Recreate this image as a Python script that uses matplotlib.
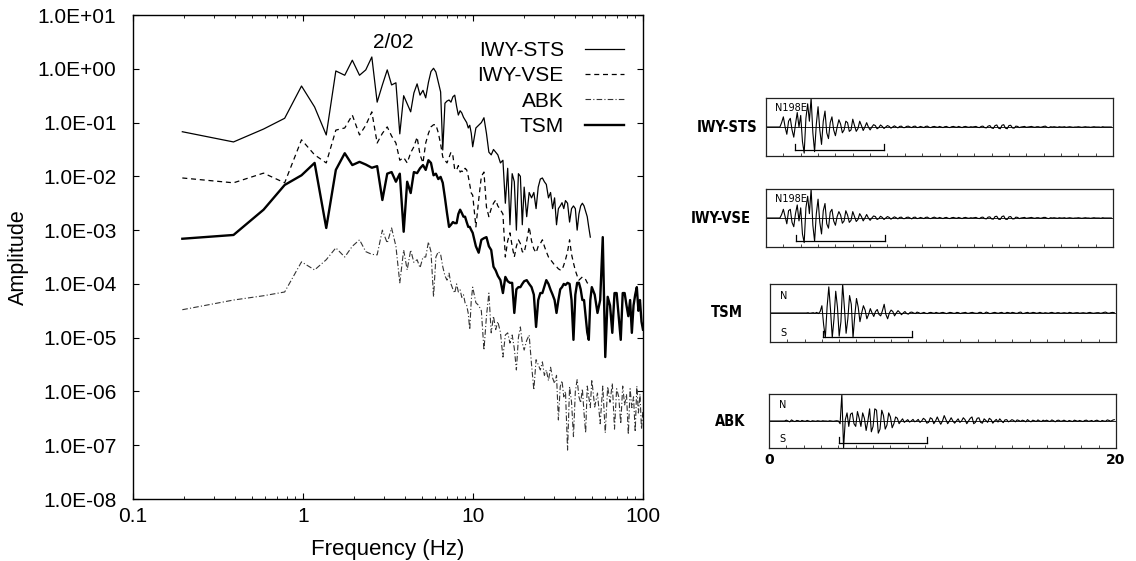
import matplotlib
matplotlib.use('Agg')
import matplotlib.pyplot as plt
import matplotlib.ticker as mticker
import numpy as np

plt.rcParams['font.family'] = ['Liberation Sans', 'DejaVu Sans']

# ---- spectra (frequency in Hz, amplitude as log10) ----
freq = [0.195, 0.39, 0.586, 0.78, 0.98, 1.17, 1.37, 1.56, 1.76, 1.95,
        2.15, 2.34, 2.54, 2.73, 2.93, 3.13, 3.32, 3.52, 3.71, 3.91,
        4.10, 4.30, 4.49, 4.69, 4.88, 5.08, 5.27, 5.47, 5.66, 5.86,
        6.05, 6.25, 6.45, 6.64, 6.84, 7.03, 7.23, 7.42, 7.62, 7.81,
        8.01, 8.20, 8.40, 8.59, 8.79, 8.98, 9.18, 9.38, 9.57, 9.77,
        9.96, 10.4, 10.8, 11.2, 11.6, 12.0, 12.4, 12.8, 13.2, 13.6,
        14.0, 14.5, 15.0, 15.5, 16.0, 16.5, 17.0, 17.5, 18.0, 18.5,
        19.0, 19.5, 20.0, 20.7, 21.4, 22.1, 22.8, 23.5, 24.2, 24.9,
        25.6, 26.3, 27.0, 27.8, 28.6, 29.4, 30.2, 31.0, 31.8, 32.6,
        33.4, 34.2, 35.0, 36, 37, 38, 39, 40, 41, 42,
        43, 44, 45, 46, 47, 48, 49, 50, 52, 54,
        56, 58, 60, 62, 64, 66, 68, 70, 72, 74,
        76, 78, 80, 82, 84, 86, 88, 90, 92, 94,
        96, 98, 100]

nan = np.nan

sts_log = [-1.17, -1.36, -1.12, -0.92, -0.32, -0.71, -1.23, -0.04, -0.12, 0.16,
           -0.12, -0.02, 0.22, -0.62, -0.30, -0.02, -0.30, -0.26, -1.21, -0.50,
           -0.65, -0.80, -0.45, -0.28, -0.49, -0.40, -0.54, -0.25, -0.05, 0.01,
           -0.06, -0.25, -0.43, -1.51, -0.64, -0.60, -0.58, -0.62, -0.52, -0.49,
           -0.70, -0.86, -0.78, -0.82, -0.90, -0.95, -1.00, -1.10, -1.05, -1.20,
           -1.45, -1.10, -1.05, -1.00, -0.91, -1.20, -1.55, -1.60, -1.50, -1.55,
           -1.60, -1.75, -1.70, -2.50, -1.85, -2.90, -1.95, -2.10, -3.00, -1.95,
           -2.00, -2.90, -2.20, -2.75, -2.30, -2.40, -2.30, -2.60, -2.20, -2.05,
           -2.03, -2.10, -2.15, -2.40, -2.30, -2.60, -2.40, -2.90, -2.60, -2.55,
           -2.49, -2.60, -2.45, -2.50, -2.85, -2.60, -2.55, -2.60, -3.00, -2.70,
           -2.55, -2.50, -2.55, -2.65, -2.75, -2.95, -3.13, nan, nan, nan,
           nan, nan, nan, nan, nan, nan, nan, nan, nan, nan,
           nan, nan, nan, nan, nan, nan, nan, nan, nan, nan,
           nan, nan, nan]

vse_log = [-2.03, -2.12, -1.94, -2.12, -1.32, -1.60, -1.75, -1.14, -1.10, -0.86,
           -1.23, -1.05, -0.80, -1.38, -1.20, -1.08, -1.25, -1.38, -1.70, -1.65,
           -1.75, -1.56, -1.45, -1.27, -1.60, -1.75, -1.38, -1.20, -1.08, -1.04,
           -1.04, -1.19, -1.40, -1.64, -1.70, -1.75, -1.65, -1.55, -1.62, -1.88,
           -1.88, -1.80, -1.92, -1.90, -1.92, -1.85, -1.88, -2.00, -2.15, -2.31,
           -2.35, -2.94, -2.44, -2.00, -1.92, -2.57, -2.75, -2.60, -2.50, -2.44,
           -2.55, -2.62, -2.70, -3.50, -3.20, -3.05, -3.30, -3.50, -3.30, -3.18,
           -3.25, -3.40, -3.42, -3.20, -2.94, -3.20, -3.35, -3.42, -3.30, -3.25,
           -3.18, -3.30, -3.40, -3.50, -3.55, -3.60, -3.65, -3.68, -3.72, -3.74,
           -3.74, -3.65, -3.55, -3.40, -3.18, -3.45, -3.61, -3.75, -3.85, -3.93,
           -3.90, -3.87, -3.90, -3.92, -3.98, -4.00, nan, nan, nan, nan,
           nan, nan, nan, nan, nan, nan, nan, nan, nan, nan,
           nan, nan, nan, nan, nan, nan, nan, nan, nan, nan,
           nan, nan, nan]

abk_log = [-4.48, -4.30, -4.22, -4.15, -3.59, -3.74, -3.55, -3.33, -3.50, -3.30,
           -3.18, -3.40, -3.45, -3.46, -3.00, -3.24, -2.96, -3.30, -3.98, -3.37,
           -3.74, -3.37, -3.60, -3.55, -3.70, -3.50, -3.50, -3.22, -3.40, -4.24,
           -3.50, -3.40, -3.45, -3.68, -3.85, -3.93, -3.80, -4.00, -4.10, -4.17,
           -4.00, -4.15, -4.11, -4.25, -4.20, -4.35, -4.40, -4.55, -4.85, -4.30,
           -4.06, -4.35, -4.40, -4.50, -5.23, -4.60, -4.17, -4.91, -4.60, -4.85,
           -4.70, -4.90, -5.36, -4.95, -4.91, -5.10, -4.95, -5.20, -5.60, -5.00,
           -4.80, -5.10, -5.23, -5.05, -4.95, -5.50, -5.97, -5.41, -5.50, -5.60,
           -5.45, -5.70, -5.60, -5.80, -5.55, -5.75, -5.85, -5.70, -6.53, -5.91,
           -5.80, -6.10, -6.00, -7.09, -5.91, -6.20, -6.84, -6.00, -5.78, -6.10,
           -6.21, -5.95, -6.40, -6.77, -5.90, -6.10, -6.30, -5.78, -6.29, -6.03,
           -6.60, -5.90, -6.77, -5.91, -6.20, -5.85, -6.70, -5.95, -6.10, -6.60,
           -5.90, -6.25, -6.05, -6.80, -5.95, -6.30, -6.10, -6.75, -5.90, -6.40,
           -6.05, -6.70, -6.34]

tsm_log = [-3.16, -3.09, -2.62, -2.16, -1.98, -1.75, -2.96, -1.88, -1.57, -1.79,
           -1.73, -1.78, -1.84, -1.81, -2.44, -1.95, -1.92, -2.10, -1.95, -3.03,
           -2.10, -2.31, -1.92, -1.94, -1.85, -1.79, -1.88, -1.70, -1.75, -1.98,
           -1.95, -2.05, -2.01, -2.12, -2.40, -2.68, -2.94, -2.90, -2.85, -2.87,
           -2.87, -2.70, -2.62, -2.68, -2.75, -2.75, -2.85, -2.94, -2.94, -3.00,
           -3.05, -3.30, -3.42, -3.18, -3.15, -3.13, -3.30, -3.37, -3.68, -3.75,
           -3.85, -3.93, -4.17, -3.87, -3.95, -3.98, -3.98, -4.54, -4.10, -4.06,
           -4.06, -4.00, -3.95, -3.93, -4.00, -4.06, -4.20, -4.80, -4.30, -4.17,
           -4.17, -4.05, -3.93, -4.00, -4.11, -4.20, -4.30, -4.54, -4.30, -4.10,
           -4.06, -4.00, -4.02, -3.98, -4.00, -4.30, -5.04, -4.20, -3.98, -3.98,
           -4.10, -4.30, -4.30, -4.60, -4.90, -5.04, -4.30, -4.06, -4.20, -4.54,
           -4.30, -3.13, -5.36, -4.24, -4.40, -4.91, -4.17, -4.17, -4.60, -5.04,
           -4.17, -4.17, -4.40, -4.60, -4.30, -4.91, -4.40, -4.20, -4.06, -4.50,
           -4.30, -4.70, -4.85]

y_ticks = [1e-8, 1e-7, 1e-6, 1e-5, 1e-4, 1e-3, 1e-2, 1e-1, 1e0, 1e1]
x_ticks = [0.1, 1, 10, 100]

# ---- waveforms (normalised, one sample every 0.1 s, 0 - 20 s) ----
dt = 0.1
wave_sts = [0, 0, 0, 0, 0, 0, 0, 0, 0, 0.15, 0.35, 0.0, -0.25, 0.2, 0.3, -0.1, -0.35, 0.1, 0.5, 0.0,
            0.4, -0.5, -0.9, 0.3, 0.8, 0.2, 1.0, -0.2, -0.85, 0.1, 0.7, -0.1, -0.6, 0.2, 0.55, -0.2, -0.4, 0.15, 0.35, -0.1,
            -0.3, 0.0, 0.25, 0.1, -0.2, -0.1, 0.2, 0.15, -0.15, -0.1, 0.27, 0.05, -0.15, -0.05, 0.2, 0.05, -0.12, 0.0, 0.15, 0.0,
            -0.1, 0.0, 0.08, 0.05, -0.06, -0.02, 0.07, 0.02, -0.05, 0.0, 0.05, 0.02, -0.04, 0.0, 0.04, 0.0, -0.03, 0.02, 0.03, -0.02,
            -0.02, 0.02, 0.03, 0.0, -0.02, 0.02, 0.03, -0.02, -0.01, 0.02, 0.0, -0.02, 0.02, 0.03, -0.01, -0.02, 0.01, 0.02, 0.0, -0.01,
            0.02, 0.0, -0.02, 0.01, 0.02, -0.01, -0.02, 0.01, 0.02, 0.0, -0.01, 0.02, 0.0, -0.02, 0.01, 0.02, 0.0, -0.01, 0.01, 0.0,
            0.01, 0.02, -0.01, -0.02, 0.02, 0.03, -0.02, -0.03, 0.03, 0.05, -0.03, -0.05, 0.05, 0.07, -0.04, -0.06, 0.06, 0.08, -0.04, -0.06,
            0.05, 0.06, -0.03, -0.04, 0.03, 0.02, -0.02, 0.0, 0.01, 0.02, -0.01, 0.0, 0.01, 0.02, 0.0, -0.01, 0.01, 0.01, -0.01, 0.0,
            0.02, 0.03, -0.01, -0.02, 0.01, 0.0, 0.01, 0.0, -0.01, 0.01, 0.0, 0.0, 0.01, -0.01, 0.0, 0.01, 0.0, -0.01, 0.0, 0.0,
            0.01, 0.0, -0.01, 0.0, 0.01, 0.0, 0.0, -0.01, 0.0, 0.01, 0.0, 0.0, 0.0, -0.01, 0.01, 0.0, 0.0, 0.0, 0.0, 0.0]

wave_vse = [0, 0, 0, 0, 0, 0, 0, 0, 0, 0.12, 0.3, 0.05, -0.2, 0.25, 0.3, -0.15, -0.3, 0.15, 0.45, -0.1,
            0.35, -0.55, -0.85, 0.35, 0.75, 0.15, 1.0, -0.25, -0.8, 0.15, 0.65, -0.15, -0.55, 0.25, 0.5, -0.2, -0.35, 0.2, 0.3, -0.1,
            -0.25, 0.05, 0.22, 0.1, -0.18, -0.1, 0.25, 0.1, -0.15, -0.08, 0.22, 0.05, -0.12, -0.05, 0.15, 0.05, -0.1, 0.0, 0.12, 0.0,
            -0.08, 0.0, 0.07, 0.05, -0.05, -0.02, 0.06, 0.02, -0.05, 0.0, 0.05, 0.02, -0.04, 0.0, 0.04, 0.01, -0.03, 0.02, 0.03, -0.02,
            -0.02, 0.02, 0.03, 0.0, -0.03, 0.02, 0.03, -0.02, -0.01, 0.02, 0.0, -0.02, 0.02, 0.03, -0.01, -0.02, 0.01, 0.03, 0.0, -0.01,
            0.02, 0.0, -0.02, 0.01, 0.02, -0.01, -0.02, 0.01, 0.02, 0.0, -0.01, 0.02, 0.0, -0.02, 0.01, 0.02, 0.0, -0.01, 0.01, 0.0,
            0.01, 0.02, -0.01, -0.02, 0.02, 0.03, -0.02, -0.03, 0.03, 0.04, -0.03, -0.04, 0.05, 0.06, -0.04, -0.05, 0.05, 0.07, -0.04, -0.05,
            0.04, 0.05, -0.03, -0.03, 0.03, 0.02, -0.02, 0.0, 0.01, 0.02, -0.01, 0.0, 0.01, 0.02, 0.0, -0.01, 0.01, 0.01, -0.01, 0.0,
            0.02, 0.02, -0.01, -0.02, 0.01, 0.0, 0.01, 0.0, -0.01, 0.01, 0.0, 0.0, 0.01, -0.01, 0.0, 0.01, 0.0, -0.01, 0.0, 0.0,
            0.01, 0.0, -0.01, 0.0, 0.01, 0.0, 0.0, -0.01, 0.0, 0.01, 0.0, 0.0, 0.0, -0.01, 0.01, 0.0, 0.0, 0.0, 0.0, 0.0]

wave_tsm = [0, 0, 0, 0, 0, 0, 0, 0, 0, 0, 0, 0, 0, 0, 0, 0, 0, 0, 0, 0,
            0, 0, 0.01, -0.01, 0, 0.01, -0.01, 0.02, -0.02, 0.05, 0.25, -0.4, -0.85, 0.2, 0.9, 0.1, -0.85, -0.2, 0.75, 0.2,
            -0.8, -0.3, 1.0, 0.2, -0.7, -0.2, 0.6, 0.3, -0.85, -0.1, 0.5, 0.2, -0.3, 0.0, 0.25, 0.1, -0.2, -0.05, 0.15, 0.0,
            -0.12, 0.05, 0.12, -0.05, -0.1, 0.08, 0.3, -0.05, -0.2, 0.0, 0.1, 0.05, -0.1, 0.0, 0.08, 0.02, -0.06, 0.0, 0.05, -0.02,
            -0.04, 0.02, 0.03, 0.0, -0.02, 0.03, 0.01, -0.02, 0.0, 0.02, -0.01, -0.02, 0.01, 0.02, 0.0, -0.01, 0.02, 0.0, -0.01, 0.01,
            0.02, 0.0, -0.02, 0.0, 0.02, 0.01, -0.01, -0.01, 0.02, 0.01, -0.02, 0.0, 0.01, 0.02, -0.01, -0.01, 0.01, 0.02, 0.0, -0.01,
            -0.01, 0.02, 0.02, -0.02, -0.01, 0.03, 0.01, -0.02, -0.01, 0.01, 0.02, 0.0, -0.01, 0.01, 0.02, -0.01, -0.01, 0.02, 0.01, -0.01,
            0.02, 0.01, -0.01, -0.01, 0.02, 0.03, -0.02, -0.01, 0.01, 0.02, -0.01, 0.0, 0.02, 0.01, -0.01, 0.0, 0.02, 0.0, -0.01, 0.01,
            0.0, -0.01, 0.01, 0.02, 0.0, -0.01, 0.01, 0.01, -0.01, 0.0, 0.01, 0.0, -0.01, 0.02, 0.01, -0.01, 0.0, 0.01, 0.01, -0.01,
            0.0, 0.01, 0.0, -0.01, 0.01, 0.02, 0.0, -0.01, 0.0, 0.01, 0.01, -0.01, 0.0, 0.02, 0.03, 0.0, -0.01, 0.01, 0.02, 0.01]

wave_abk = [0, 0, 0, 0, 0, 0, 0, 0, 0, 0, 0.03, 0.0, -0.03, 0.04, 0.0, -0.02, 0.02, 0.01, -0.02, 0.02,
            0.0, -0.01, 0.02, 0.0, -0.02, 0.01, 0.0, -0.01, 0.01, 0.0, -0.01, 0.01, 0.0, 0.0, -0.01, 0.01, 0.0, -0.01, 0.0, 0.01,
            0.0, -0.1, 1.0, -1.0, 0.05, 0.3, -0.2, 0.25, 0.3, -0.1, -0.2, 0.35, 0.1, -0.2, 0.3, 0.1, -0.35, 0.0, 0.45, -0.4,
            -0.2, 0.45, 0.4, -0.45, -0.3, 0.4, 0.2, -0.3, -0.15, 0.3, 0.15, -0.25, -0.1, 0.15, 0.1, -0.1, 0.0, 0.08, -0.05, 0.0,
            0.05, -0.04, 0.0, 0.06, -0.03, 0.0, 0.06, -0.05, 0.0, 0.1, 0.05, -0.08, -0.05, 0.12, 0.08, -0.1, 0.0, 0.15, 0.0, -0.12,
            0.0, 0.2, 0.05, -0.1, 0.0, 0.12, 0.0, -0.08, 0.0, 0.08, -0.05, 0.0, 0.12, 0.05, -0.1, 0.0, 0.1, 0.15, -0.1, -0.05,
            0.1, 0.12, -0.05, -0.08, 0.08, 0.02, -0.05, 0.1, 0.05, -0.08, 0.0, 0.06, -0.04, 0.08, 0.0, -0.06, 0.04, 0.05, -0.03, 0.0,
            0.05, 0.02, -0.03, 0.04, 0.02, -0.02, 0.03, 0.01, -0.03, 0.05, 0.0, -0.03, 0.03, 0.01, -0.02, 0.04, 0.0, -0.02, 0.03, 0.0,
            0.03, 0.0, -0.02, 0.04, 0.01, -0.03, 0.02, 0.03, -0.01, 0.0, 0.03, 0.0, -0.02, 0.02, 0.0, -0.02, 0.03, 0.01, -0.01, 0.02,
            0.0, -0.02, 0.02, 0.03, -0.01, 0.0, 0.02, -0.02, 0.01, 0.03, 0.0, -0.02, 0.02, 0.0, -0.01, 0.04, 0.02, -0.01, 0.03, 0.05]

stations = ['IWY-STS', 'IWY-VSE', 'TSM', 'ABK']
waves = [wave_sts, wave_vse, wave_tsm, wave_abk]
bar_start = [1.67, 1.73, 3.06, 4.03]
bar_end = [6.8, 6.86, 8.2, 9.1]
bar_level = [-0.79, -0.79, -0.83, -0.81]

fig = plt.figure(figsize=(11.36, 5.61), dpi=100)

# ---- spectrum panel ----
ax = fig.add_axes([0.1171, 0.1105, 0.4489, 0.8627])
f = np.array(freq)
ax.plot(f, 10 ** np.array(sts_log), color='black', lw=0.9, label='IWY-STS')
ax.plot(f, 10 ** np.array(vse_log), color='black', lw=0.9, ls=(0, (4, 3)), label='IWY-VSE')
ax.plot(f, 10 ** np.array(abk_log), color='#333333', lw=0.8, ls=(0, (5, 2, 1, 2)), label='ABK')
ax.plot(f, 10 ** np.array(tsm_log), color='black', lw=1.7, label='TSM')

ax.set_xscale('log')
ax.set_yscale('log')
ax.set_xlim(0.1, 100)
ax.set_ylim(1e-8, 10)
ax.yaxis.set_major_locator(mticker.FixedLocator(y_ticks))
ax.yaxis.set_minor_locator(mticker.NullLocator())
ax.yaxis.set_major_formatter(mticker.FuncFormatter(lambda v, p: '%.1E' % v))
ax.xaxis.set_major_locator(mticker.FixedLocator(x_ticks))
ax.xaxis.set_major_formatter(mticker.FuncFormatter(lambda v, p: '%g' % v))
ax.xaxis.set_minor_formatter(mticker.NullFormatter())
ax.tick_params(which='both', direction='in', top=True, right=True, labelsize=15)
ax.tick_params(axis='y', pad=12, length=4)
ax.tick_params(axis='x', which='major', pad=6, length=4)
ax.tick_params(axis='x', which='minor', length=2.5)
for s in ax.spines.values():
    s.set_linewidth(1.0)

ax.set_xlabel('Frequency (Hz)', fontsize=16, labelpad=9)
ax.set_ylabel('Amplitude', fontsize=15.5, labelpad=6)
ax.text(0.51, 0.944, '2/02', transform=ax.transAxes, fontsize=15, ha='center', va='center')
ax.legend(loc='upper right', bbox_to_anchor=(1.0, 0.985), markerfirst=False, frameon=False,
          fontsize=15, handlelength=1.9, handletextpad=1.0, labelspacing=0.3,
          borderaxespad=0.9, borderpad=0)

# ---- waveform panels ----
rects = [[0.6743, 0.7219, 0.3055, 0.1034],
         [0.6743, 0.5597, 0.3055, 0.1034],
         [0.6778, 0.3904, 0.3046, 0.1034],
         [0.6769, 0.2014, 0.3055, 0.0963]]
label_x = [757, 751, 743, 745]

for i in range(4):
    wa = fig.add_axes(rects[i])
    w = np.array(waves[i])
    t = np.arange(len(w)) * dt
    wa.plot(t, w, color='black', lw=0.8)
    wa.plot([0, 20], [0, 0], color='black', lw=0.6)
    wa.plot([bar_start[i], bar_end[i]], [bar_level[i], bar_level[i]], color='black', lw=0.9)
    for b in (bar_start[i], bar_end[i]):
        wa.plot([b, b], [bar_level[i], bar_level[i] + 0.22], color='black', lw=0.9)
    wa.set_xlim(0, 20)
    wa.set_ylim(-1.0, 1.0)
    wa.set_xticks(np.arange(1, 20))
    wa.set_yticks([])
    wa.tick_params(axis='x', direction='in', length=2, labelbottom=False, width=0.5)
    for s in wa.spines.values():
        s.set_linewidth(0.9)
        s.set_color('#222222')
    if i < 2:
        wa.text(0.025, 0.82, 'N198E', transform=wa.transAxes, fontsize=7, family='DejaVu Sans',
                va='center', ha='left')
    else:
        wa.text(0.04, 0.8, 'N', transform=wa.transAxes, fontsize=7, family='DejaVu Sans',
                va='center', ha='center')
        wa.text(0.04, 0.16, 'S', transform=wa.transAxes, fontsize=7, family='DejaVu Sans',
                va='center', ha='center')
    ymid = rects[i][1] + rects[i][3] / 2
    fig.text(label_x[i] / 1136, ymid, stations[i], ha='right', va='center', fontsize=10.5,
             fontweight='bold', family='DejaVu Sans', stretch='condensed')
    if i == 3:
        fig.text(rects[i][0], rects[i][1] - 0.022, '0', ha='center', va='center', fontsize=10,
                 fontweight='bold', family='DejaVu Sans')
        fig.text(rects[i][0] + rects[i][2], rects[i][1] - 0.022, '20', ha='center', va='center',
                 fontsize=10, fontweight='bold', family='DejaVu Sans')

fig.savefig('out.png', dpi=100)
